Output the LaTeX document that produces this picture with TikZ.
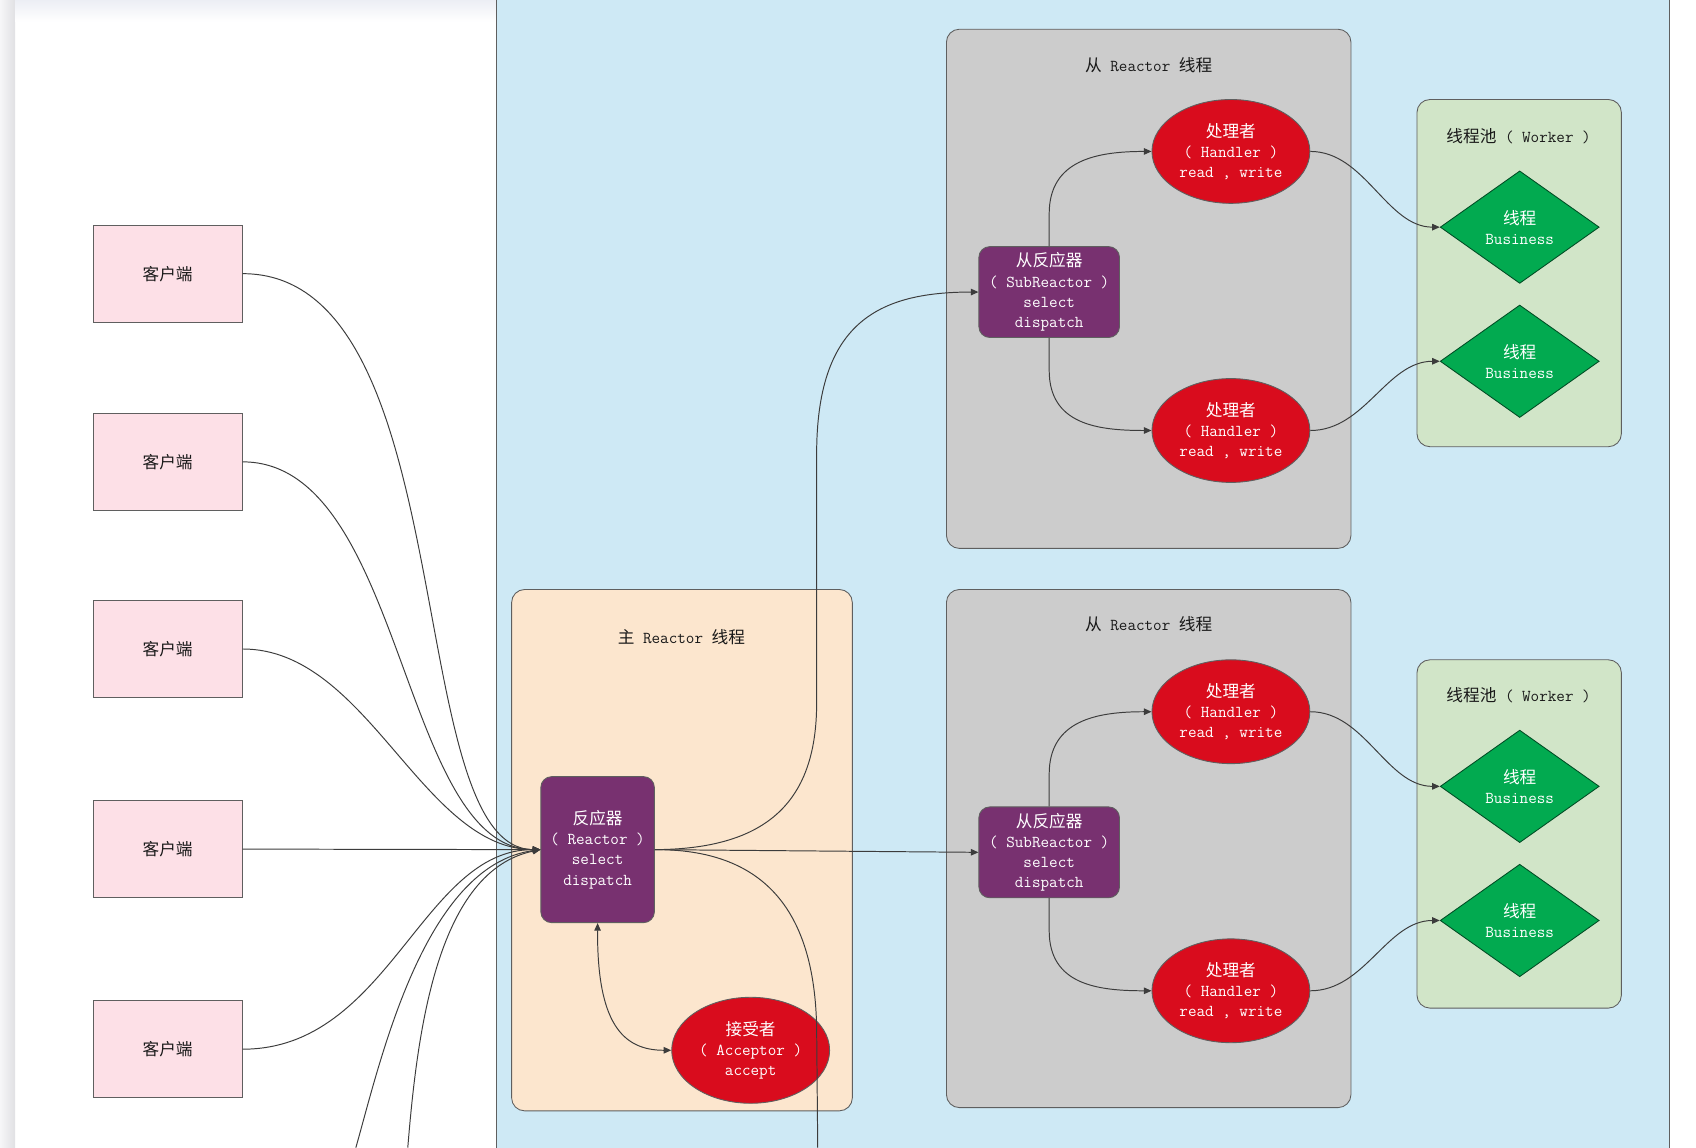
\documentclass[tikz,border=0pt]{standalone}
\usepackage{fontspec}
\newfontfamily\cjk{Noto Sans CJK SC}
\newcommand\zh[1]{{\cjk #1}}
\usetikzlibrary{shapes.geometric,arrows.meta}
\definecolor{bluep}{RGB}{206,233,245}
\definecolor{peach}{RGB}{252,230,206}
\definecolor{greyc}{RGB}{204,204,204}
\definecolor{poolc}{RGB}{209,229,200}
\definecolor{pinkc}{RGB}{253,224,231}
\definecolor{purp}{RGB}{120,49,112}
\definecolor{redc}{RGB}{217,12,29}
\definecolor{greenc}{RGB}{2,170,80}
\definecolor{bordc}{RGB}{95,95,95}
\definecolor{linec}{RGB}{60,60,60}
\definecolor{txt}{RGB}{25,25,25}
\begin{document}
\begin{tikzpicture}[x=1pt,y=-1pt,
  basefont/.style={font=\ttfamily\fontsize{15.4}{18.7}\selectfont},
  client/.style={basefont, draw=bordc, line width=0.8pt, fill=pinkc, minimum width=138pt, minimum height=90pt, text=txt},
  react/.style={basefont, draw=bordc, line width=0.8pt, fill=purp, rounded corners=10pt, text=white, align=center, minimum width=105pt, minimum height=135pt, inner sep=2pt},
  subr/.style={react, minimum width=130pt, minimum height=84pt},
  hand/.style={basefont, ellipse, draw=bordc, line width=0.8pt, fill=redc, text=white, align=center, minimum width=146pt, minimum height=96pt, inner sep=0pt},
  thr/.style={basefont, diamond, draw=black!55!greenc, line width=0.8pt, fill=greenc, text=white, align=center, minimum width=147pt, minimum height=104pt, inner sep=0pt},
  cont/.style={draw=bordc, line width=0.8pt, rounded corners=12pt},
  title/.style={basefont, text=txt},
  conn/.style={draw=linec, line width=0.9pt, -{Triangle[length=7pt,width=6pt]}},
  plain/.style={draw=linec, line width=0.9pt}
]
\useasboundingbox (0,0) rectangle (1568,1061);
% background
\fill[white] (0,0) rectangle (1568,1061);
\shade[left color={rgb,255:red,246;green,246;blue,248}, right color={rgb,255:red,224;green,224;blue,227}] (0,0) rectangle (14,1061);
\shade[top color={rgb,255:red,236;green,238;blue,244}, bottom color=white] (14,0) rectangle (459,20);
\draw[fill=bluep, draw=bordc, line width=0.8pt] (459,-5) rectangle (1543,1070);

% containers
\draw[cont, fill=peach] (473,545) rectangle (788,1027);
\draw[cont, fill=greyc] (875,27) rectangle (1249,507);
\draw[cont, fill=greyc] (875,545) rectangle (1249,1024);
\draw[cont, fill=poolc] (1310,92) rectangle (1499,413);
\draw[cont, fill=poolc] (1310,610) rectangle (1499,932);

% titles
\node[title] (tm) at (630,589) {\zh{主} Reactor \zh{线程}};
\node[title] (ts1) at (1062,60) {\zh{从} Reactor \zh{线程}};
\node[title] (ts2) at (1062,577) {\zh{从} Reactor \zh{线程}};
\node[title] (tp1) at (1404,126) {\zh{线程池} ( Worker )};
\node[title] (tp2) at (1404,643) {\zh{线程池} ( Worker )};

% clients
\node[client] (c1) at (155,253) {\zh{客户端}};
\node[client] (c2) at (155,427) {\zh{客户端}};
\node[client] (c3) at (155,600) {\zh{客户端}};
\node[client] (c4) at (155,785) {\zh{客户端}};
\node[client] (c5) at (155,970) {\zh{客户端}};

% main reactor
\node[react] (R) at (552.5,785.5) {\zh{反应器}\\( Reactor )\\select\\dispatch};
\node[hand, minimum height=98pt] (A) at (694,971) {\zh{接受者}\\( Acceptor )\\accept};

% sub reactors
\node[subr] (S1) at (970,270) {\zh{从反应器}\\( SubReactor )\\select\\dispatch};
\node[subr] (S2) at (970,788) {\zh{从反应器}\\( SubReactor )\\select\\dispatch};

% handlers
\node[hand] (H1) at (1138,140) {\zh{处理者}\\( Handler )\\read , write};
\node[hand] (H2) at (1138,398) {\zh{处理者}\\( Handler )\\read , write};
\node[hand] (H3) at (1138,658) {\zh{处理者}\\( Handler )\\read , write};
\node[hand] (H4) at (1138,916) {\zh{处理者}\\( Handler )\\read , write};

% worker threads
\node[thr] (D1) at (1405,210) {\zh{线程}\\Business};
\node[thr] (D2) at (1405,334) {\zh{线程}\\Business};
\node[thr] (D3) at (1405,727) {\zh{线程}\\Business};
\node[thr] (D4) at (1405,851) {\zh{线程}\\Business};

% off-screen ends
\coordinate (offA) at (329,1061);
\coordinate (offB) at (377,1061);
\coordinate (offC) at (756,1061);

% client connectors
\draw[conn] (c1.east) .. controls (430,253) and (370,785) .. (R.west);
\draw[conn] (c2.east) .. controls (374,427) and (370,785) .. (R.west);
\draw[conn] (c3.east) .. controls (340,600) and (390,785) .. (R.west);
\draw[conn] (c4.east) -- (R.west);
\draw[conn] (c5.east) .. controls (360,970) and (390,785) .. (R.west);
\draw[conn] (offA) .. controls (352,980) and (392,800) .. (R.west);
\draw[conn] (offB) .. controls (386,950) and (405,805) .. (R.west);

% reactor connectors
\draw[conn] (R.east) .. controls (705,785) and (755,745) .. (755,650) -- (755,420) .. controls (755,300) and (810,270) .. (S1.west);
\draw[conn] (R.east) -- (S2.west);
\draw[plain] (R.east) .. controls (705,785) and (753,840) .. (755,950) -- (offC);
\draw[draw=linec, line width=0.9pt, {Triangle[length=7pt,width=6pt]}-{Triangle[length=7pt,width=6pt]}] (R.south) .. controls (552,945) and (575,971) .. (A.west);

% sub reactor 1
\draw[conn] (S1.north) -- ++(0,-30) .. controls +(0,-50) and +(-50,0) .. (H1.west);
\draw[conn] (S1.south) -- ++(0,30) .. controls +(0,50) and +(-50,0) .. (H2.west);
\draw[conn] (H1.east) .. controls (1262,140) and (1282,210) .. (D1.west);
\draw[conn] (H2.east) .. controls (1262,398) and (1282,334) .. (D2.west);

% sub reactor 2
\draw[conn] (S2.north) -- ++(0,-30) .. controls +(0,-50) and +(-50,0) .. (H3.west);
\draw[conn] (S2.south) -- ++(0,30) .. controls +(0,50) and +(-50,0) .. (H4.west);
\draw[conn] (H3.east) .. controls (1262,658) and (1282,727) .. (D3.west);
\draw[conn] (H4.east) .. controls (1262,916) and (1282,851) .. (D4.west);
\end{tikzpicture}
\end{document}
